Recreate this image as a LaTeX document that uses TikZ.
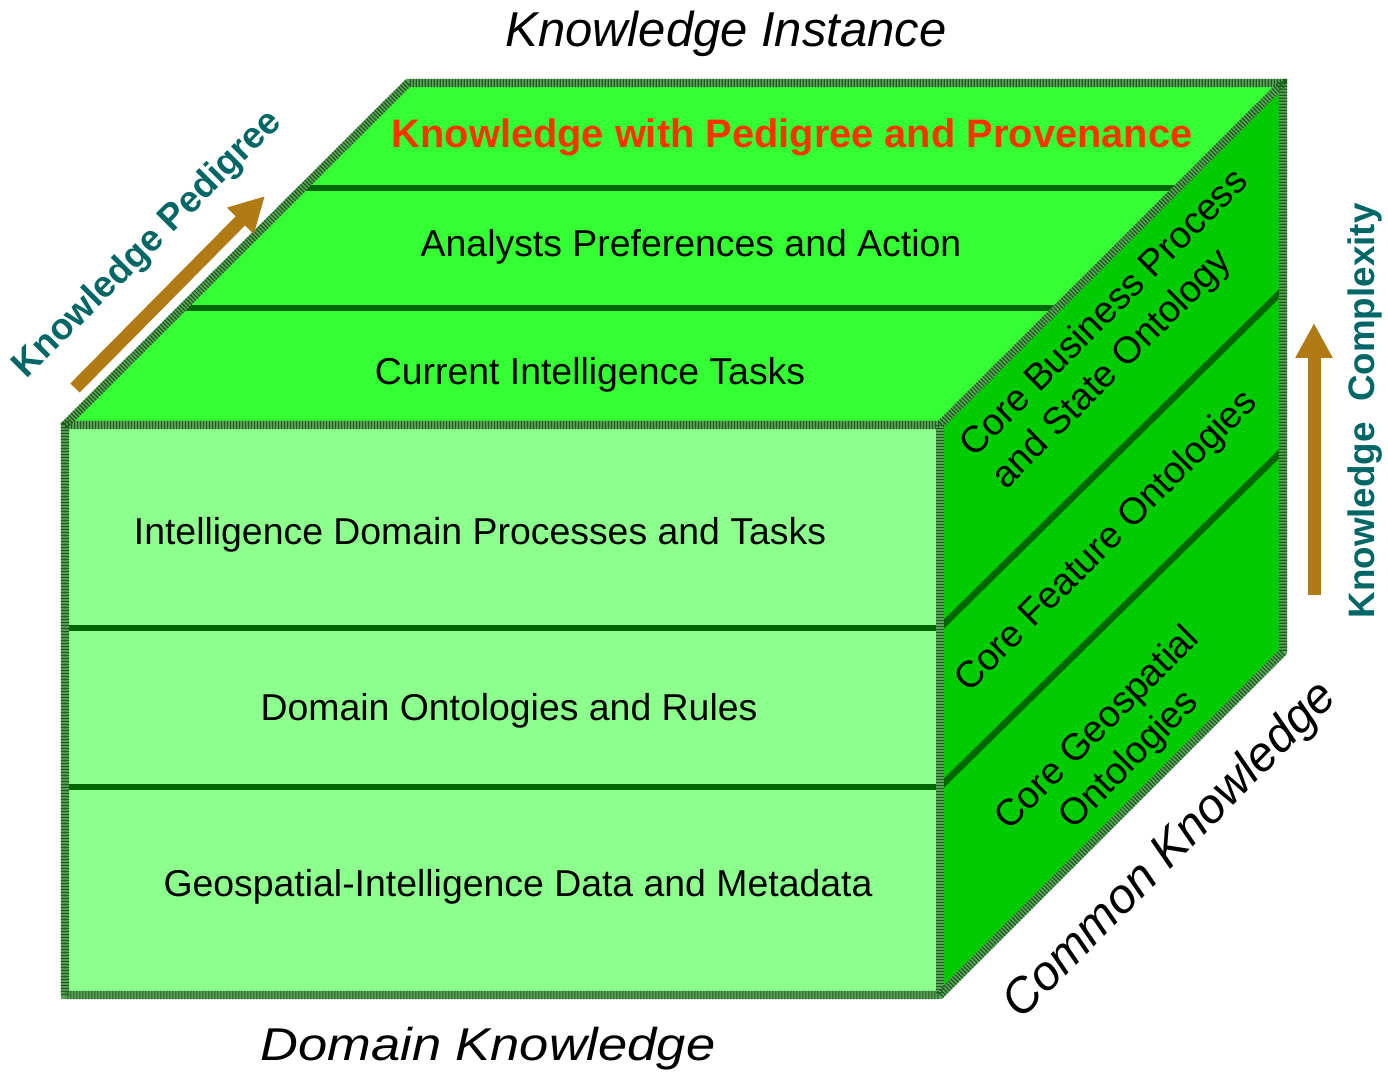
\documentclass[tikz,border=0pt]{standalone}
\usepackage{fontspec}
\usepackage{graphicx}
\setmainfont{Liberation Sans}
\usetikzlibrary{arrows.meta}
\definecolor{frontc}{RGB}{140,255,140}
\definecolor{topc}{RGB}{51,255,51}
\definecolor{sidec}{RGB}{0,204,0}
\definecolor{divc}{RGB}{0,102,0}
\definecolor{edgec}{RGB}{95,160,95}
\definecolor{edgedark}{RGB}{25,95,25}
\definecolor{tealc}{RGB}{0,102,102}
\definecolor{arrowc}{RGB}{176,122,20}
\definecolor{redc}{RGB}{255,51,0}
\begin{document}
\begin{tikzpicture}[x=0.5pt,y=-0.5pt,
  divider/.style={draw=divc, line width=3.3pt},
  edgebase/.style={draw=edgec, line width=4.2pt, line join=miter},
  edgetex/.style={draw=edgedark, line width=4.2pt, line join=miter, dash pattern=on 0.6pt off 0.9pt},
  lbl/.style={inner sep=0pt, font=\fontsize{18.7}{22.4}\selectfont},
  redlbl/.style={inner sep=0pt, text=redc, font=\fontsize{19.9}{23.8}\selectfont\bfseries},
  tealbl/.style={inner sep=0pt, text=tealc, font=\fontsize{18.4}{22}\selectfont\bfseries},
  itlbl/.style={inner sep=0pt, font=\fontsize{24.5}{29}\selectfont\itshape},
  bigarrow/.style={draw=arrowc, line width=6.5pt, -{Triangle[length=17.5pt,width=17.5pt]}}
]
\useasboundingbox (0,0) rectangle (1388,1079);

% faces
\fill[frontc] (65,425) -- (940,425) -- (940,995) -- (65,995) -- cycle;
\fill[topc] (65,425) -- (408,83) -- (1283,83) -- (940,425) -- cycle;
\fill[sidec] (940,425) -- (1283,83) -- (1283,652) -- (940,995) -- cycle;

% dividers
\draw[divider] (65,628) -- (940,628);
\draw[divider] (65,787) -- (940,787);
\draw[divider] (302,188) -- (1177,188);
\draw[divider] (182,308) -- (1057,308);
\draw[divider] (940,628) -- (1283,290);
\draw[divider] (940,787) -- (1283,450);

% textured edges
\foreach \s in {edgebase,edgetex}{
  \draw[\s] (65,995) -- (65,425) -- (408,83) -- (1283,83) -- (1283,652) -- (940,995) -- cycle;
  \draw[\s] (65,425) -- (940,425) -- (1283,83);
  \draw[\s] (940,425) -- (940,995);
}

% labels
\node[itlbl, anchor=base] (kinst) at (726,47) {Knowledge Instance};
\node[redlbl, anchor=base] (kpp) at (792,148) {Knowledge with Pedigree and Provenance};
\node[lbl, anchor=base] (apa) at (691,257) {Analysts Preferences and Action};
\node[lbl, anchor=base] (cit) at (590,385) {Current Intelligence Tasks};
\node[lbl, anchor=base] (idp) at (480,545) {Intelligence Domain Processes and Tasks};
\node[lbl, anchor=base] (dor) at (509,721) {Domain Ontologies and Rules};
\node[lbl, anchor=base] (gid) at (518,897) {Geospatial-Intelligence Data and Metadata};
\node[itlbl, anchor=base, font=\fontsize{23}{27}\selectfont\itshape] (dk) at (488,1060) {\scalebox{1.14}[1]{Domain Knowledge}};

\node[lbl, rotate=45, align=left] (cbp) at (1121,330) {Core Business Process\\and State Ontology};
\node[lbl, rotate=45] (cfo) at (1107,542) {Core Feature Ontologies};
\node[lbl, rotate=45, align=center] (cgo) at (1114,745) {Core Geospatial\\Ontologies};
\node[itlbl, rotate=45.5, font=\fontsize{24.3}{29}\selectfont\itshape] (ck) at (1171,851) {Common Knowledge};

\node[tealbl, rotate=45] (kped) at (148,245) {Knowledge Pedigree};
\node[tealbl, rotate=90] (kcomp) at (1365,411) {Knowledge\ \ Complexity};

% arrows
\coordinate (pedtail) at (75,388);
\coordinate (pedtip) at (265,196);
\coordinate (comptail) at (1314,595);
\coordinate (comptip) at (1314,323);
\draw[bigarrow] (pedtail) -- (pedtip);
\draw[bigarrow] (comptail) -- (comptip);
\end{tikzpicture}
\end{document}
